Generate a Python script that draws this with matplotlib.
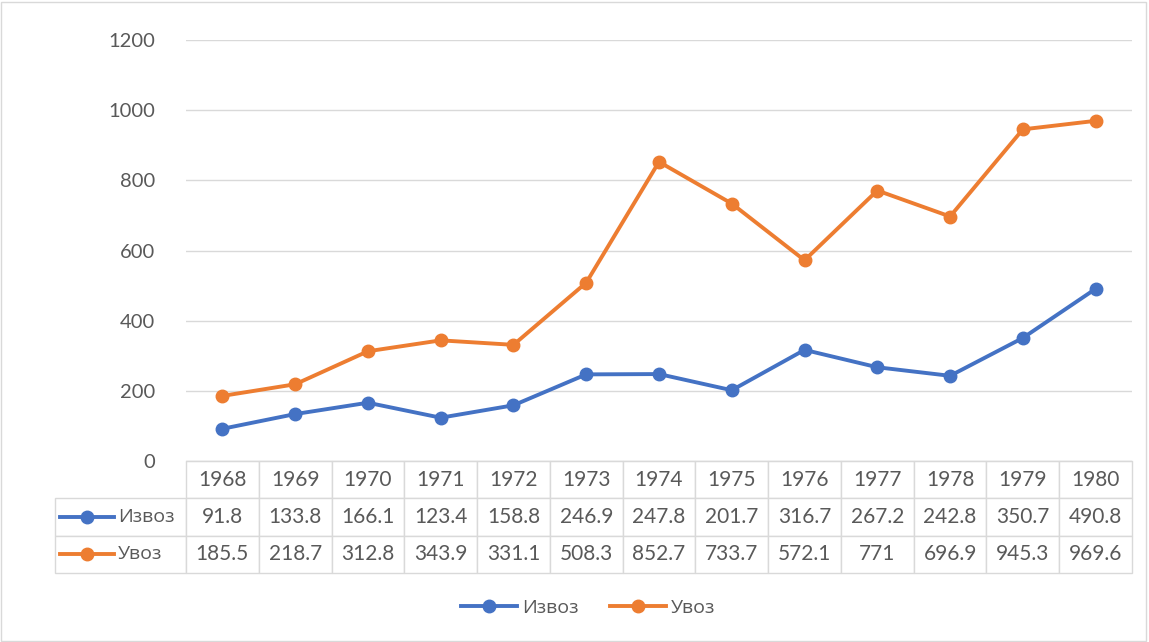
import matplotlib.pyplot as plt
from matplotlib.lines import Line2D
from matplotlib.patches import Rectangle

### 數據
years = ["1968", "1969", "1970", "1971", "1972", "1973", "1974",
         "1975", "1976", "1977", "1978", "1979", "1980"]
izvoz = [91.8, 133.8, 166.1, 123.4, 158.8, 246.9, 247.8, 201.7, 316.7, 267.2, 242.8, 350.7, 490.8]
uvoz = [185.5, 218.7, 312.8, 343.9, 331.1, 508.3, 852.7, 733.7, 572.1, 771, 696.9, 945.3, 969.6]
series_names = ["Извоз", "Увоз"]

blue = "#4472C4"
orange = "#ED7D31"
grid_c = "#D9D9D9"
text_c = "#595959"
cyr_font = ["Open Sans", "DejaVu Sans"]

plt.rcParams["font.family"] = ["Lato", "DejaVu Sans"]

W, H = 1149, 642
fig = plt.figure(figsize=(W / 100, H / 100), dpi=100)
ax_l, ax_r, ax_t, ax_b = 186, 1132, 40, 461
aw, ah = ax_r - ax_l, ax_b - ax_t
ax = fig.add_axes([ax_l / W, 1 - ax_b / H, aw / W, ah / H])

x = list(range(len(years)))
l1, = ax.plot(x, izvoz, color=blue, lw=2.8, marker="o", ms=9, label=series_names[0])
l2, = ax.plot(x, uvoz, color=orange, lw=2.8, marker="o", ms=9, label=series_names[1])

ax.set_xlim(-0.5, len(years) - 0.5)
ax.set_ylim(0, 1200)
ax.set_yticks(range(0, 1201, 200))
ax.set_xticks([])
ax.grid(axis="y", color=grid_c, lw=1)
ax.set_axisbelow(True)
for s in ["left", "right", "top"]:
    ax.spines[s].set_visible(False)
ax.spines["bottom"].set_color(grid_c)
ax.tick_params(axis="y", length=0, labelsize=14.5, labelcolor=text_c, pad=22)

### 資料表
fmt = lambda v: "%g" % v
cells = [[""] + years, [""] + [fmt(v) for v in izvoz], [""] + [fmt(v) for v in uvoz]]
lab_w = 131
col_w = aw / len(years)
tb_h = 112
tbl = ax.table(cellText=cells, colWidths=[lab_w] + [col_w] * len(years),
               bbox=[-lab_w / aw, -tb_h / ah, 1 + lab_w / aw, tb_h / ah], cellLoc="center")
tbl.auto_set_font_size(False)
tbl.set_fontsize(15)
for (r, c), cell in tbl.get_celld().items():
    cell.set_edgecolor(grid_c)
    cell.set_linewidth(1)
    cell.get_text().set_color(text_c)
tbl[0, 0].visible_edges = ""

## 表格列標籤與圖例符號
for i, (name, col) in enumerate([(series_names[0], blue), (series_names[1], orange)]):
    yc = -(tb_h / 3 * (i + 1.5)) / ah
    ax.add_line(Line2D([(60 - ax_l) / aw, (114 - ax_l) / aw], [yc, yc], transform=ax.transAxes,
                       color=col, lw=2.8, clip_on=False))
    ax.add_line(Line2D([(87 - ax_l) / aw], [yc], transform=ax.transAxes, color=col,
                       marker="o", ms=9, clip_on=False))
    ax.text((118 - ax_l) / aw, yc, name, transform=ax.transAxes, ha="left", va="center",
            fontsize=14, color=text_c, family=cyr_font)

fig.legend(handles=[l1, l2], loc="center", bbox_to_anchor=(588 / W, 1 - 608 / H), ncol=2,
           frameon=False, prop={"family": cyr_font, "size": 14}, labelcolor=text_c,
           handlelength=2.9, columnspacing=1.6, handletextpad=0.25)

fig.add_artist(Rectangle((1 / W, 1 / H), (W - 4) / W, (H - 3) / H, transform=fig.transFigure,
                         fill=False, edgecolor=grid_c, lw=1))

fig.savefig("out.png", dpi=100)
